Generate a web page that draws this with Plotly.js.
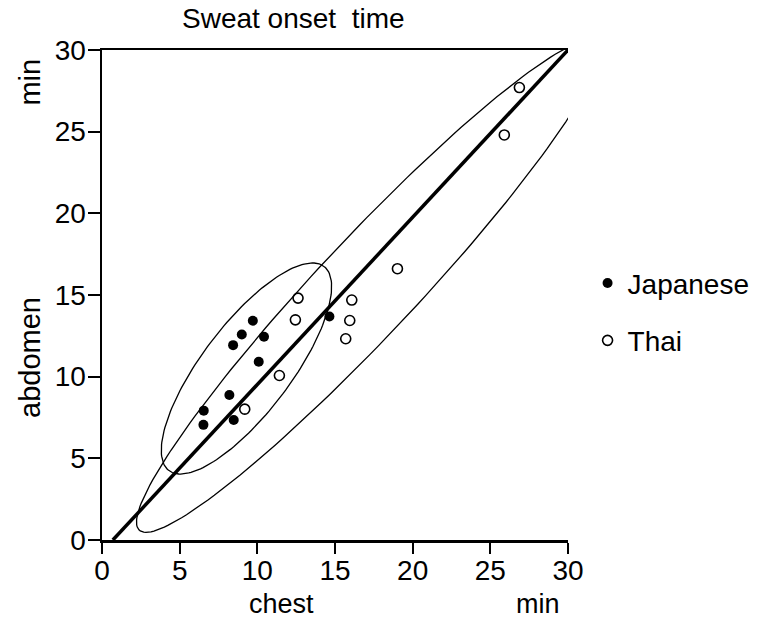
<!DOCTYPE html>
<html>
<head>
<meta charset="utf-8">
<script src="https://cdn.plot.ly/plotly-3.0.1.min.js"></script>
<style>html,body{margin:0;padding:0;background:#fff;}#chart{width:763px;height:624px;}</style>
</head>
<body>
<div id="chart"></div>
<script>
// Data
var japaneseChest   = [6.55, 6.53, 8.48, 8.2, 8.44, 9.0, 9.71, 10.43, 10.09, 14.64];
var japaneseAbdomen = [7.92, 7.05, 7.35, 8.88, 11.93, 12.58, 13.42, 12.44, 10.91, 13.68];
var thaiChest   = [9.19, 11.42, 12.45, 12.62, 15.69, 15.95, 16.08, 19.02, 25.9, 26.87];
var thaiAbdomen = [8.01, 10.07, 13.48, 14.81, 12.32, 13.44, 14.69, 16.61, 24.8, 27.7];
var regressionX = [0.7, 30];
var regressionY = [0, 30];
var tickVals = [0, 5, 10, 15, 20, 25, 30];
// Ellipse parameters: [centerX, centerY, semiMajor, semiMinor, angleDeg]
var japaneseEllipse = [9.3, 10.5, 8.0, 2.8, 51];
var thaiEllipse = [17.15, 15.55, 21.0, 3.05, 45.3];

function ellipsePath(p) {
  var cx = p[0], cy = p[1], a = p[2], b = p[3], th = p[4] * Math.PI / 180;
  var xs = [], ys = [];
  for (var i = 0; i <= 360; i += 2) {
    var t = i * Math.PI / 180;
    var ex = a * Math.cos(t), ey = b * Math.sin(t);
    xs.push(cx + ex * Math.cos(th) - ey * Math.sin(th));
    ys.push(cy + ex * Math.sin(th) + ey * Math.cos(th));
  }
  return {x: xs, y: ys};
}
var je = ellipsePath(japaneseEllipse);
var te = ellipsePath(thaiEllipse);

var FONT = 'Liberation Sans, Arial, Helvetica, sans-serif';

var traces = [
  {x: te.x, y: te.y, mode: 'lines', line: {color: '#000', width: 1.3}, showlegend: false, hoverinfo: 'skip'},
  {x: je.x, y: je.y, mode: 'lines', line: {color: '#000', width: 1.3}, showlegend: false, hoverinfo: 'skip'},
  {x: regressionX, y: regressionY, mode: 'lines', line: {color: '#000', width: 3.5}, showlegend: false, hoverinfo: 'skip'},
  {x: japaneseChest, y: japaneseAbdomen, mode: 'markers', name: 'Japanese', legendgroup: 'j',
   marker: {symbol: 'circle', size: 10, color: '#000', line: {color: '#000', width: 0}}},
  {x: thaiChest, y: thaiAbdomen, mode: 'markers', name: 'Thai', legendgroup: 't',
   marker: {symbol: 'circle-open', size: 10, color: '#000', line: {color: '#000', width: 1.6}}}
];

var layout = {
  width: 763, height: 624,
  margin: {l: 102, r: 195, t: 50, b: 84, autoexpand: false},
  paper_bgcolor: '#fff', plot_bgcolor: '#fff',
  font: {family: FONT, color: '#000', size: 28},
  showlegend: true,
  legend: {x: 1.042, y: 0.575, xanchor: 'left', yanchor: 'top', font: {size: 28, family: FONT, color: '#000'},
           tracegroupgap: 18, itemwidth: 30, bgcolor: 'rgba(0,0,0,0)'},
  xaxis: {range: [0, 30], tickvals: tickVals, ticktext: tickVals.map(String),
          showgrid: false, zeroline: false, showline: true, linecolor: '#000', linewidth: 2.5,
          mirror: true, ticks: 'outside', ticklen: 11, tickwidth: 2, tickcolor: '#000', ticklabelstandoff: -7,
          tickfont: {size: 28, family: FONT, color: '#000'}, fixedrange: true},
  yaxis: {range: [0, 30], tickvals: tickVals, ticktext: tickVals.map(String),
          showgrid: false, zeroline: false, showline: true, linecolor: '#000', linewidth: 2.5,
          ticks: 'outside', ticklen: 12, tickwidth: 2, tickcolor: '#000', ticklabelstandoff: -4,
          tickfont: {size: 28, family: FONT, color: '#000'}, fixedrange: true},
  annotations: [
    {text: 'Sweat onset  time', xref: 'paper', yref: 'paper', x: 0.41, y: 1.065, showarrow: false,
     font: {size: 28, family: FONT, color: '#000'}, xanchor: 'center', yanchor: 'middle'},
    {text: 'chest', xref: 'paper', yref: 'paper', x: 0.386, y: -0.166, showarrow: false,
     font: {size: 27, family: FONT, color: '#000'}, xanchor: 'center', yanchor: 'bottom'},
    {text: 'min', xref: 'paper', yref: 'paper', x: 0.936, y: -0.166, showarrow: false,
     font: {size: 27, family: FONT, color: '#000'}, xanchor: 'center', yanchor: 'bottom'},
    {text: 'abdomen', xref: 'paper', yref: 'paper', x: -0.155, y: 0.373, showarrow: false, textangle: -90,
     font: {size: 29, family: FONT, color: '#000'}, xanchor: 'center', yanchor: 'middle'},
    {text: 'min', xref: 'paper', yref: 'paper', x: -0.155, y: 0.935, showarrow: false, textangle: -90,
     font: {size: 29, family: FONT, color: '#000'}, xanchor: 'center', yanchor: 'middle'}
  ]
};

Plotly.newPlot('chart', traces, layout, {staticPlot: true, displayModeBar: false});
</script>
</body>
</html>
